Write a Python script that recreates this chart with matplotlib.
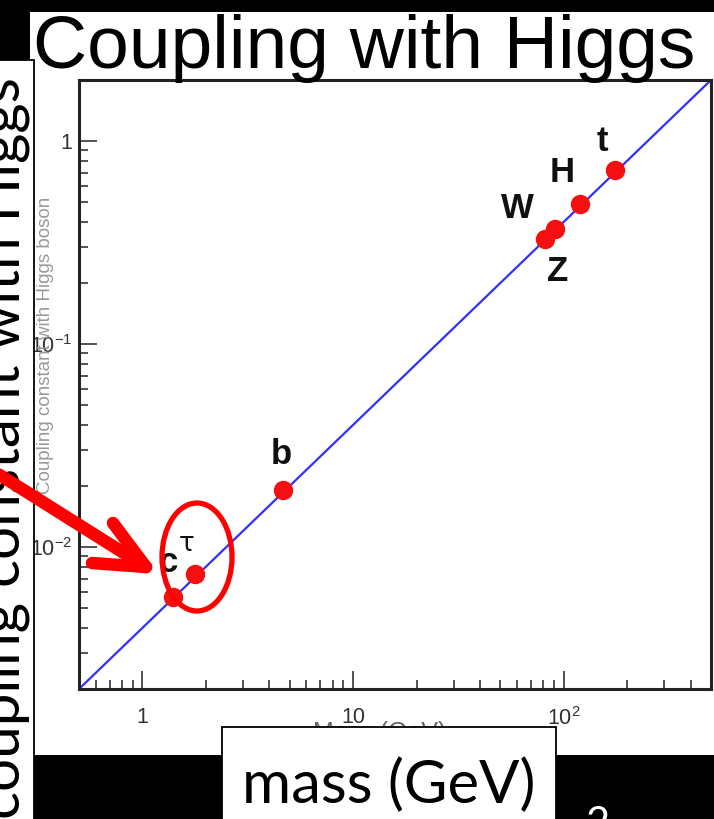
import numpy as np
import matplotlib
matplotlib.use('Agg')
import matplotlib.pyplot as plt
from matplotlib.patches import Rectangle, Ellipse
from matplotlib.lines import Line2D

# data
particles = ['c', 'τ', 'b', 'W', 'Z', 'H', 't']
mass = [1.39, 1.77, 4.63, 81.5, 91.0, 119.0, 175.0]          # GeV
coupling = [0.0057, 0.0074, 0.0191, 0.33, 0.37, 0.49, 0.72]
line_mass = [0.5, 500.0]
line_coupling = [0.002, 2.0]
xtick_vals = [1, 10, 100]
xtick_labels = ['1', '10', r'$10^{2}$']
ytick_vals = [1, 0.1, 0.01]
ytick_labels = ['1', r'$10^{-1}$', r'$10^{-2}$']

plt.rcParams['mathtext.fontset'] = 'custom'
plt.rcParams['mathtext.rm'] = 'Liberation Sans'
plt.rcParams['mathtext.it'] = 'Liberation Sans:italic'
plt.rcParams['mathtext.bf'] = 'Liberation Sans:bold'

W, H = 714, 819
def fx(x): return x/W
def fy(y): return 1 - y/H

fig = plt.figure(figsize=(W/100, H/100), dpi=100, facecolor='black')

# white pasted picture
fig.patches.append(Rectangle((fx(30), fy(755)), fx(714)-fx(30), fy(12)-fy(755),
                             transform=fig.transFigure, facecolor='white',
                             edgecolor='none', zorder=-5))

ax = fig.add_axes([fx(79), fy(689), fx(711)-fx(79), fy(80)-fy(689)])
ax.set_xscale('log'); ax.set_yscale('log')
ax.set_xlim(0.5, 500); ax.set_ylim(0.002, 2)
ax.plot(line_mass, line_coupling, color='#3030ff', lw=1.6, zorder=2)
ax.plot(mass, coupling, 'o', color='#f41010', ms=14, mec='none', zorder=3)

lab_off = {'c': (-4, 34), 'τ': (-8, 30), 'b': (-1, 36), 'W': (-28, 30),
           'Z': (3, -43), 'H': (-17, 31), 't': (-13, 29)}
for p, m, c in zip(particles, mass, coupling):
    dx, dy = lab_off[p]
    if p == 'τ':
        ax.annotate(p, (m, c), xytext=(dx, dy), textcoords='offset pixels',
                    ha='center', va='center', fontsize=19, color='#111',
                    family='DejaVu Sans')
    else:
        ax.annotate(p, (m, c), xytext=(dx, dy), textcoords='offset pixels',
                    ha='center', va='center', fontsize=25, fontweight='bold',
                    color='#111', family='Liberation Sans')

ax.set_xticks(xtick_vals)
ax.set_xticklabels(xtick_labels)
ax.set_yticks(ytick_vals)
ax.set_yticklabels(ytick_labels)
ax.tick_params(which='both', direction='in', top=False, right=False,
               colors='#222', labelcolor='#333', labelsize=15.5)
ax.tick_params(which='major', length=13, width=1.1)
ax.tick_params(which='minor', length=6.5, width=1.1)
ax.tick_params(axis='x', pad=13)
ax.tick_params(axis='y', pad=5)
for lab in ax.get_xticklabels() + ax.get_yticklabels():
    lab.set_family('Liberation Sans')
for s in ax.spines.values():
    s.set_linewidth(2.2)
    s.set_color('#222')
ax.set_xlabel('Mass (GeV)', fontsize=18, color='#666', family='Liberation Sans')
ax.xaxis.set_label_coords(0.476, -0.052)
ax.set_ylabel('Coupling constant with Higgs boson', fontsize=13.5, color='#999',
              family='Liberation Sans')
ax.yaxis.set_label_coords(-0.040, 0.565)

# title of the pasted picture
fig.text(fx(33), fy(68), 'Coupling with Higgs', fontsize=54, family='Liberation Sans',
         color='black', ha='left', va='baseline')

# black band at the bottom
fig.patches.append(Rectangle((fx(0), fy(819)), 1, fy(755)-fy(819),
                             transform=fig.transFigure, facecolor='black',
                             edgecolor='none', zorder=1))
fig.text(fx(598), fy(806), '2', fontsize=30, color='white', family='Lato',
         ha='center', va='top', zorder=2)

# box with vertical label on the left
ybox = Rectangle((fx(-2), fy(830)), fx(34)-fx(-2), fy(60)-fy(830),
                 transform=fig.transFigure, facecolor='white',
                 edgecolor='black', lw=1.3, zorder=4)
fig.patches.append(ybox)
t = fig.text(fx(20), fy(819), 'coupling constant with Higgs', rotation=90,
             rotation_mode='anchor', ha='left', va='baseline', fontsize=42,
             family='Lato', color='black', zorder=5)
t.set_clip_path(ybox)

# box with x label at the bottom
fig.patches.append(Rectangle((fx(222), fy(830)), fx(556)-fx(222), fy(727)-fy(830),
                             transform=fig.transFigure, facecolor='white',
                             edgecolor='black', lw=1.3, zorder=4))
fig.text(fx(389), fy(803), 'mass (GeV)', fontsize=43, family='Lato',
         color='black', ha='center', va='baseline', zorder=5)

# red ellipse and arrow
fig.patches.append(Ellipse((fx(197), fy(557)), fx(70), 108/H,
                           transform=fig.transFigure, facecolor='none',
                           edgecolor='#f00', lw=3.8, zorder=6))
tip = (146, 567)
for start in [(-5, 472), (113, 523), (92, 563)]:
    fig.lines.append(Line2D([fx(start[0]), fx(tip[0])], [fy(start[1]), fy(tip[1])],
                            transform=fig.transFigure, color='#f00', lw=9,
                            solid_capstyle='round', zorder=7))

fig.savefig('out.png', dpi=100, facecolor='black')
